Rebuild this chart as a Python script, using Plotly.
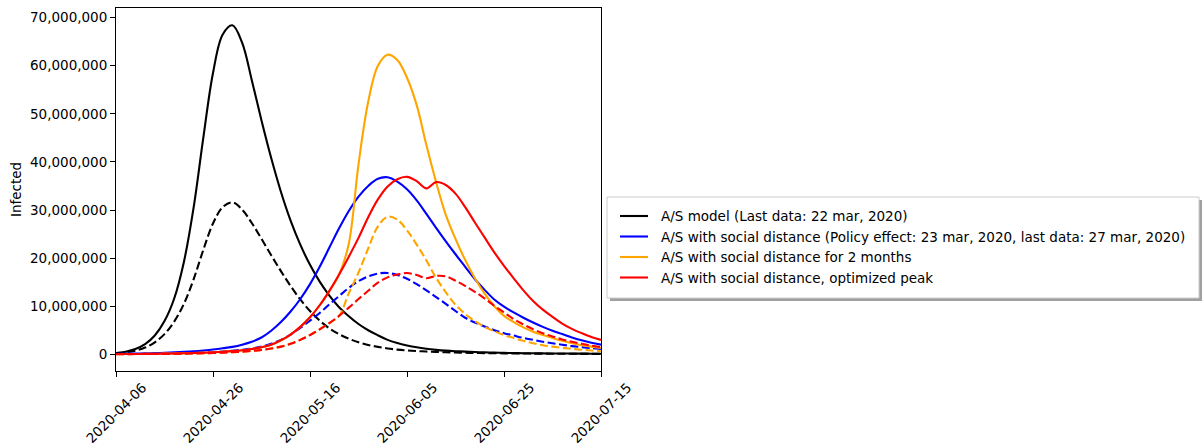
import datetime as dt
import plotly.graph_objects as go

# ---- data (values in millions, every 2 days starting 2020-04-06) ----
start_date = dt.date(2020, 4, 6)
step_days = 2

black_solid = [0.27, 0.55, 1.1, 2.1, 3.9, 6.9, 11.6, 19.2, 30.5, 45, 58.5, 66.5, 68.4, 64.8, 57.0, 48.6,
               40.8, 33.8, 27.8, 22.8, 18.6, 15.1, 12.2, 9.8, 7.9, 6.3, 5.0, 3.95, 3.0, 2.35, 1.85, 1.45,
               1.15, 0.93, 0.77, 0.65, 0.55, 0.47, 0.4, 0.35, 0.3, 0.26, 0.23, 0.21, 0.19, 0.17, 0.16,
               0.15, 0.14, 0.13, 0.12]
black_dashed = [0.27, 0.42, 0.75, 1.4, 2.5, 4.2, 6.8, 10.5, 15.6, 21.7, 27.2, 30.6, 31.6, 30.1, 27.3,
                24.0, 20.6, 17.3, 14.2, 11.4, 9.0, 7.0, 5.4, 4.2, 3.25, 2.5, 1.95, 1.55, 1.22, 0.98, 0.8,
                0.67, 0.57, 0.49, 0.42, 0.37, 0.32, 0.28, 0.25, 0.22, 0.2, 0.18, 0.16, 0.15, 0.14, 0.13,
                0.12, 0.11, 0.1, 0.1, 0.09]
blue_solid = [0.1, 0.12, 0.16, 0.2, 0.25, 0.32, 0.4, 0.5, 0.63, 0.8, 1.0, 1.25, 1.55, 2.0, 2.6, 3.5, 4.9,
              6.7, 8.9, 11.5, 14.6, 18.2, 22.2, 26.2, 29.8, 32.8, 35.0, 36.5, 36.8, 35.9, 34.3, 32.0, 29.2,
              26.3, 23.5, 20.8, 18.2, 15.6, 13.4, 11.4, 9.9, 8.7, 7.6, 6.6, 5.7, 4.9, 4.2, 3.5, 2.9, 2.4,
              2.0]
blue_dashed = [0.05, 0.06, 0.07, 0.09, 0.11, 0.14, 0.18, 0.22, 0.28, 0.36, 0.46, 0.58, 0.74, 0.95, 1.2,
               1.6, 2.2, 3.0, 4.1, 5.5, 7.0, 8.6, 10.4, 12.1, 13.8, 15.2, 16.2, 16.8, 16.9, 16.5, 15.7,
               14.6, 13.3, 11.9, 10.5, 9.0, 7.6, 6.6, 5.8, 5.0, 4.4, 3.9, 3.4, 3.0, 2.6, 2.3, 2.0, 1.7,
               1.5, 1.3, 1.1]
orange_solid = [0.05, 0.06, 0.07, 0.09, 0.11, 0.14, 0.17, 0.21, 0.26, 0.33, 0.41, 0.52, 0.66, 0.84, 1.1,
                1.45, 2.0, 2.9, 4.1, 5.7, 7.7, 10.2, 13.2, 16.6, 23.0, 39.5, 52.5, 60.0, 62.3, 61.2, 57.5,
                51.8, 43.5, 35.8, 29.0, 24.0, 19.6, 15.8, 12.6, 10.0, 8.0, 6.7, 5.6, 4.7, 4.0, 3.4, 2.8,
                2.3, 1.9, 1.6, 1.3]
orange_dashed = [0.03, 0.04, 0.05, 0.06, 0.07, 0.09, 0.11, 0.14, 0.17, 0.21, 0.27, 0.34, 0.43, 0.55, 0.7,
                 0.9, 1.2, 1.6, 2.2, 3.0, 4.0, 5.2, 6.5, 8.0, 12.7, 17.0, 22.0, 26.6, 28.6, 28.0, 25.8,
                 22.8, 19.5, 15.9, 12.9, 10.3, 8.4, 6.9, 5.7, 4.8, 4.0, 3.4, 2.8, 2.3, 1.9, 1.6, 1.35,
                 1.15, 0.95, 0.8, 0.65]
red_solid = [0.05, 0.06, 0.07, 0.09, 0.11, 0.14, 0.17, 0.21, 0.26, 0.33, 0.41, 0.52, 0.66, 0.84, 1.1, 1.45,
             2.0, 2.9, 4.1, 5.7, 7.7, 10.2, 13.2, 16.6, 20.3, 24.2, 28.5, 32.2, 34.9, 36.4, 36.9, 36.0,
             34.5, 35.8, 35.2, 33.4, 30.6, 27.4, 24.3, 21.2, 18.4, 15.8, 13.3, 11.1, 9.3, 7.8, 6.4, 5.3,
             4.4, 3.6, 3.0]
red_dashed = [0.03, 0.04, 0.05, 0.06, 0.07, 0.09, 0.11, 0.14, 0.17, 0.21, 0.27, 0.34, 0.43, 0.55, 0.7, 0.9,
              1.2, 1.6, 2.2, 3.0, 4.0, 5.2, 6.5, 8.0, 9.7, 11.5, 13.2, 14.9, 16.0, 16.6, 16.9, 16.5, 15.8,
              16.3, 16.2, 15.3, 14.2, 13.0, 11.6, 10.1, 8.7, 7.3, 6.2, 5.2, 4.4, 3.7, 3.1, 2.6, 2.2, 1.8,
              1.5]

legend_labels = [
    "A/S model (Last data: 22 mar, 2020)",
    "A/S with social distance (Policy effect: 23 mar, 2020, last data: 27 mar, 2020)",
    "A/S with social distance for 2 months",
    "A/S with social distance, optimized peak",
]
series_colors = ["black", "#0000ff", "#ffa500", "#ff0000"]
tick_dates = ["2020-04-06", "2020-04-26", "2020-05-16", "2020-06-05", "2020-06-25", "2020-07-15"]
y_ticks = [0, 10_000_000, 20_000_000, 30_000_000, 40_000_000, 50_000_000, 60_000_000, 70_000_000]
y_title = "Infected"

dates = [start_date + dt.timedelta(days=step_days * i) for i in range(len(black_solid))]

FONT = "DejaVu Sans"
FS = 13.5
fig = go.Figure()
series = [
    (black_solid, black_dashed),
    (blue_solid, blue_dashed),
    (orange_solid, orange_dashed),
    (red_solid, red_dashed),
]
for (solid, dashed), color, name in zip(series, series_colors, legend_labels):
    fig.add_trace(go.Scatter(x=dates, y=[v * 1e6 for v in solid], mode="lines", name=name,
                             line=dict(color=color, width=2.1, shape="spline", smoothing=1.0),
                             showlegend=False))
    fig.add_trace(go.Scatter(x=dates, y=[v * 1e6 for v in dashed], mode="lines", name=name + " (dashed)",
                             line=dict(color=color, width=2.1, shape="spline", smoothing=1.0,
                                       dash="8px,3.5px"),
                             showlegend=False))

W, H = 1203, 447
L, R, T, B = 116, 601, 8, 371


def px_x(px):
    return (px - L) / (R - L)


def px_y(py):
    return (B - py) / (B - T)


# ---- legend drawn as box + line samples + text (matplotlib style, with shadow) ----
box_l, box_r, box_t, box_b = 607, 1199, 197, 298
shapes = [
    dict(type="rect", xref="paper", yref="paper", layer="above",
         x0=px_x(box_l + 3), x1=px_x(box_r + 3), y0=px_y(box_b + 3), y1=px_y(box_t + 3),
         fillcolor="#a0a0a0", line=dict(width=0)),
    dict(type="rect", xref="paper", yref="paper", layer="above",
         x0=px_x(box_l), x1=px_x(box_r), y0=px_y(box_b), y1=px_y(box_t),
         fillcolor="white", line=dict(color="#cccccc", width=1)),
]
annotations = []
row_y = [216, 236.5, 257, 277.5]
for lab, color, ry in zip(legend_labels, series_colors, row_y):
    shapes.append(dict(type="line", xref="paper", yref="paper", layer="above",
                       x0=px_x(620), x1=px_x(648), y0=px_y(ry), y1=px_y(ry),
                       line=dict(color=color, width=2.1)))
    annotations.append(dict(xref="paper", yref="paper", x=px_x(659), y=px_y(ry), text=lab,
                            showarrow=False, xanchor="left", yanchor="middle",
                            font=dict(family=FONT, size=FS, color="black")))

# x tick labels: rotated 45 degrees and centred under each tick (matplotlib style)
for d in tick_dates:
    annotations.append(dict(xref="x", yref="paper", x=d, y=px_y(413), text=d, textangle=-45,
                            showarrow=False, xanchor="center", yanchor="middle",
                            font=dict(family=FONT, size=FS, color="black")))

fig.update_layout(
    width=W, height=H,
    margin=dict(l=L, r=W - R, t=T, b=H - B, pad=0, autoexpand=False),
    paper_bgcolor="white", plot_bgcolor="white",
    font=dict(family=FONT, size=FS, color="black"),
    showlegend=False,
    shapes=shapes,
    annotations=annotations,
)
fig.update_xaxes(
    type="date", range=[tick_dates[0], tick_dates[-1]],
    tickvals=tick_dates, showticklabels=False,
    ticks="outside", ticklen=5, tickwidth=1, tickcolor="black",
    showline=True, linecolor="black", linewidth=1, mirror=True,
    showgrid=False, zeroline=False, automargin=False,
)
fig.update_yaxes(
    range=[-3.47e6, 72.0e6], tickvals=y_ticks, tickformat=",d",
    ticks="outside", ticklen=5, tickwidth=1, tickcolor="black",
    showline=True, linecolor="black", linewidth=1, mirror=True,
    showgrid=False, zeroline=False,
    title=dict(text=y_title, standoff=5, font=dict(family=FONT, size=FS, color="black")),
    tickfont=dict(family=FONT, size=FS, color="black"),
    automargin=False,
)
fig.write_html("out.html")
